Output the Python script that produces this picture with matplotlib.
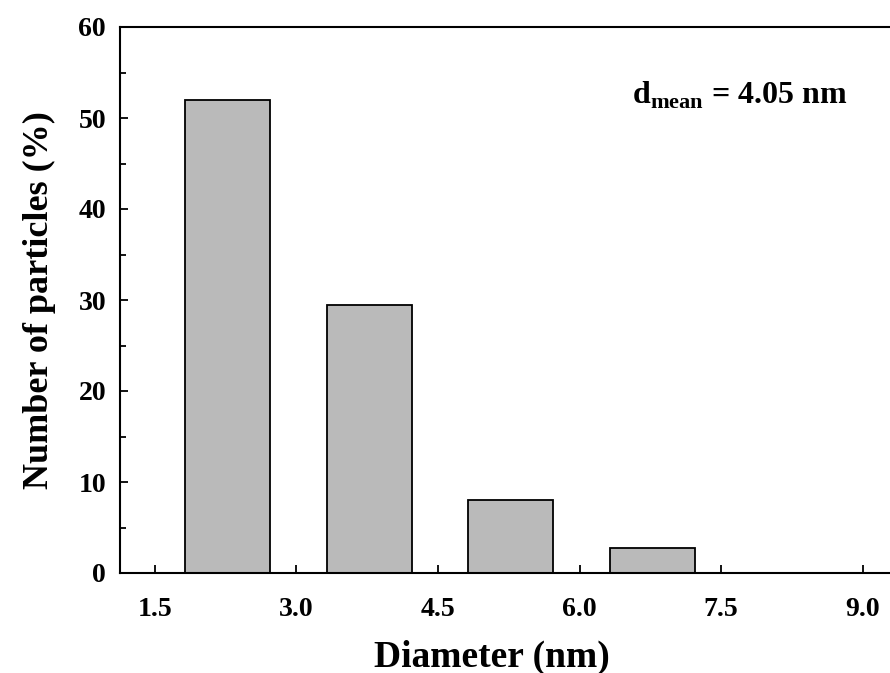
import matplotlib
matplotlib.use("Agg")
import matplotlib.pyplot as plt
from matplotlib.ticker import MultipleLocator

# ── Data ──────────────────────────────────────────────────────────────────────
bin_centres = [2.27, 3.77, 5.27, 6.77]     # nm
percentages = [52.0, 29.5, 8.0, 2.8]       # %
bar_width   = 0.9
x_ticks     = [1.5, 3.0, 4.5, 6.0, 7.5, 9.0]
y_ticks     = [0, 10, 20, 30, 40, 50, 60]

plt.rcParams.update({
    "font.family"     : "Liberation Serif",
    "font.weight"     : "bold",
    "mathtext.fontset": "custom",
    "mathtext.rm"     : "Liberation Serif:bold",
    "mathtext.bf"     : "Liberation Serif:bold",
})

fig = plt.figure(figsize=(8.9, 6.73), dpi=100)
ax = fig.add_axes([120 / 890, 100 / 673, 773 / 890, 546 / 673])

ax.bar(bin_centres, percentages, width=bar_width,
       color="#bababa", edgecolor="black", linewidth=1.3, zorder=2)

ax.set_xlim(1.13, 9.32)
ax.set_ylim(0, 60)
ax.set_xticks(x_ticks)
ax.set_xticklabels([f"{t:.1f}" for t in x_ticks])
ax.set_yticks(y_ticks)
ax.yaxis.set_minor_locator(MultipleLocator(5))

ax.tick_params(axis="both", which="both", direction="in", labelsize=20)
ax.tick_params(axis="both", which="major", length=6, width=1.3)
ax.tick_params(axis="y", which="minor", length=4, width=1.3)
ax.tick_params(axis="x", pad=17)
ax.tick_params(axis="y", pad=10)
for lab in ax.get_xticklabels() + ax.get_yticklabels():
    lab.set_fontweight("bold")

for sp in ax.spines.values():
    sp.set_linewidth(1.5)

ax.set_xlabel("Diameter (nm)", fontsize=27, fontweight="bold")
ax.xaxis.set_label_coords(0.481, -0.122)
ax.xaxis.label.set_va("top")
ax.set_ylabel("Number of particles (%)", fontsize=26, fontweight="bold", labelpad=16)

ax.text(8.84, 51.6, r"d$_{\rm mean}$ = 4.05 nm", ha="right", va="baseline",
        fontsize=23, fontweight="bold")

fig.savefig("out.png", dpi=100)
